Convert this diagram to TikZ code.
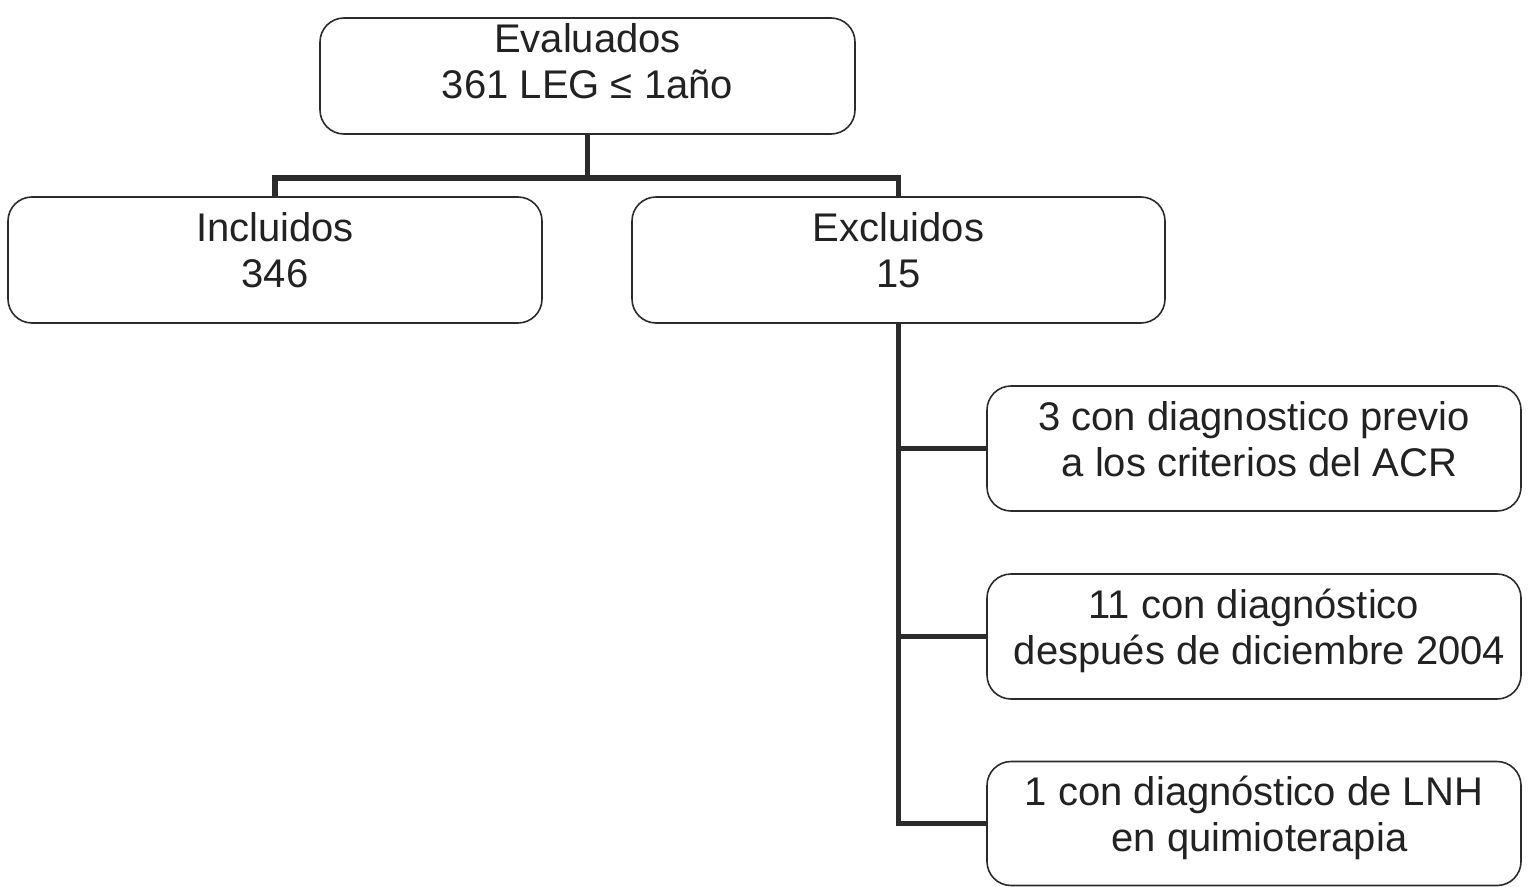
\documentclass[tikz,border=0pt]{standalone}
\usepackage{fontspec}
\setmainfont{Liberation Sans}
\definecolor{ln}{HTML}{2B2B2B}
\definecolor{tx}{HTML}{222222}
\tikzset{
  box/.style={draw=ln, line width=1.6pt, rounded corners=24pt, rectangle,
    inner sep=0pt, outer sep=0pt},
  conn/.style={draw=ln, line width=5.5pt, line join=miter},
  lbl/.style={text=tx, anchor=base, inner sep=0pt, outer sep=0pt,
    font=\fontsize{40}{46.5}\selectfont}
}
\begin{document}
\begin{tikzpicture}[x=1pt,y=-1pt]
\useasboundingbox (0,0) rectangle (1530,886);
% boxes
\node[box, minimum width=535pt, minimum height=116pt] (top)  at (587.5,76) {};
\node[box, minimum width=534pt, minimum height=126pt] (incl) at (275,260) {};
\node[box, minimum width=533pt, minimum height=126pt] (excl) at (898.5,260) {};
\node[box, minimum width=534pt, minimum height=125pt] (b3)   at (1254,448.5) {};
\node[box, minimum width=534pt, minimum height=125pt] (b11)  at (1254,636.5) {};
\node[box, minimum width=534pt, minimum height=124pt] (b1)   at (1254,823.5) {};
% texts
\node[lbl] (topT)  at (587.5,52) {\begin{tabular}[t]{@{}c@{}}Evaluados\\361 LEG ≤ 1año\end{tabular}};
\node[lbl] (inclT) at (275,241) {\begin{tabular}[t]{@{}c@{}}Incluidos\\346\end{tabular}};
\node[lbl] (exclT) at (898.5,241) {\begin{tabular}[t]{@{}c@{}}Excluidos\\15\end{tabular}};
\node[lbl] (b3T)   at (1254,430) {\begin{tabular}[t]{@{}c@{}}3 con diagnostico previo\\\ a los criterios del ACR\end{tabular}};
\node[lbl] (b11T)  at (1254,618) {\begin{tabular}[t]{@{}c@{}}11 con diagnóstico\\\ después de diciembre 2004\end{tabular}};
\node[lbl] (b1T)   at (1254,805) {\begin{tabular}[t]{@{}c@{}}1 con diagnóstico de LNH\\\ en quimioterapia\end{tabular}};
% connectors
\coordinate (bar) at (587.5,178);
\draw[conn] (top.south) -- (bar);
\draw[conn] (incl.north) |- (bar -| excl.north) -- (excl.north);
\draw[conn] (excl.south) |- (b1.west);
\draw[conn] (excl.south |- b3.west) -- (b3.west);
\draw[conn] (excl.south |- b11.west) -- (b11.west);
\end{tikzpicture}
\end{document}
